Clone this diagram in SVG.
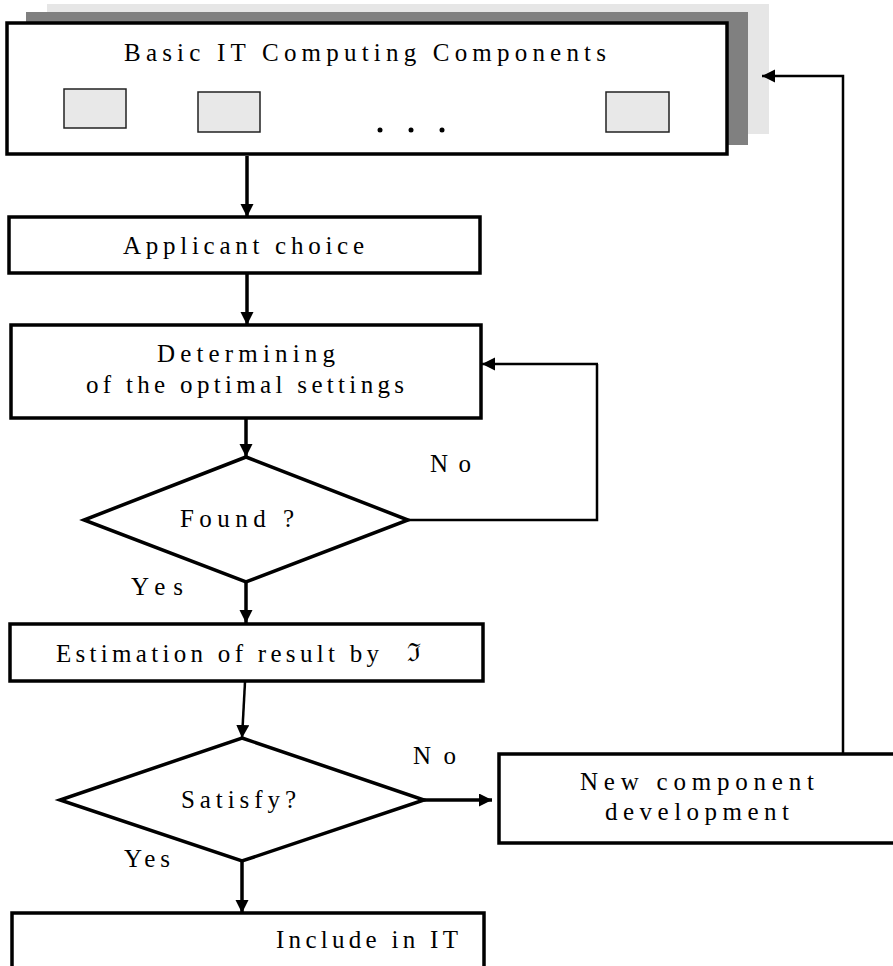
<svg xmlns="http://www.w3.org/2000/svg" width="893" height="966" viewBox="0 0 893 966">
<style>
.box{fill:#fff;stroke:#000;stroke-width:3.5}
.comp{fill:#e8e8e8;stroke:#222;stroke-width:1.5}
.t{font-family:"Liberation Serif","Times New Roman",serif;font-size:25px;fill:#000}
.c{fill:none;stroke:#000;stroke-width:3.5}
.cl{fill:none;stroke:#000;stroke-width:2.5}
</style>
<defs>
<marker id="ah" markerUnits="userSpaceOnUse" markerWidth="14" markerHeight="14" refX="13" refY="6.5" orient="auto">
<path d="M0,0 L13,6.5 L0,13 z" fill="#000"/>
</marker>
</defs>
<rect width="893" height="966" fill="#fff"/>
<g id="basic">
<rect x="47" y="4" width="722" height="130" fill="#e6e6e6"/>
<rect x="26" y="12" width="722" height="133" fill="#808080"/>
<rect class="box" x="7" y="23" width="720" height="131"/>
<text class="t" x="124" y="61" textLength="482" lengthAdjust="spacing">Basic IT Computing Components</text>
<rect class="comp" x="64" y="89" width="62" height="39"/>
<rect class="comp" x="198" y="92" width="62" height="40"/>
<rect class="comp" x="606" y="92" width="63" height="40"/>
<circle cx="380" cy="130" r="2.5"/>
<circle cx="411" cy="130" r="2.5"/>
<circle cx="442" cy="130" r="2.5"/>
</g>
<g id="applicant">
<rect class="box" x="9" y="217" width="471" height="56"/>
<text class="t" x="123" y="254" textLength="241" lengthAdjust="spacing">Applicant choice</text>
</g>
<g id="determining">
<rect class="box" x="11" y="325" width="470" height="93"/>
<text class="t" x="157" y="362" textLength="178" lengthAdjust="spacing">Determining</text>
<text class="t" x="86" y="393" textLength="318" lengthAdjust="spacing">of the optimal settings</text>
</g>
<g id="found">
<polygon class="box" points="246,457 408,520 246,582 84,520"/>
<text class="t" x="180" y="527" textLength="114" lengthAdjust="spacing">Found ?</text>
</g>
<g id="estimation">
<rect class="box" x="10" y="624" width="473" height="57"/>
<text class="t" x="56" y="662" textLength="323" lengthAdjust="spacing">Estimation of result by</text>
<text x="407" y="661" font-family="'DejaVu Serif',serif" font-size="25">ℑ</text>
</g>
<g id="satisfy">
<polygon class="box" points="242,738 424,800 242,861 60,800"/>
<text class="t" x="181" y="808" textLength="115" lengthAdjust="spacing">Satisfy?</text>
</g>
<g id="newcomp">
<rect class="box" x="499" y="754" width="410" height="89"/>
<text class="t" x="580" y="790" textLength="234" lengthAdjust="spacing">New component</text>
<text class="t" x="605" y="820" textLength="184" lengthAdjust="spacing">development</text>
</g>
<g id="include">
<rect class="box" x="12" y="913" width="472" height="70"/>
<text class="t" x="276" y="948" textLength="182" lengthAdjust="spacing">Include in IT</text>
</g>
<g id="connectors">
<line class="c" x1="247" y1="156" x2="247" y2="217" marker-end="url(#ah)"/>
<line class="c" x1="247" y1="274" x2="247" y2="325" marker-end="url(#ah)"/>
<line class="c" x1="246" y1="419" x2="246" y2="457" marker-end="url(#ah)"/>
<polyline class="cl" points="408,520 597,520 597,364"/>
<line class="cl" x1="598" y1="364" x2="482" y2="364" marker-end="url(#ah)"/>
<line class="c" x1="246" y1="583" x2="246" y2="623" marker-end="url(#ah)"/>
<line class="cl" x1="245" y1="682" x2="242" y2="738" marker-end="url(#ah)"/>
<line class="c" x1="424" y1="800" x2="492" y2="800" marker-end="url(#ah)"/>
<line class="c" x1="242" y1="862" x2="242" y2="913" marker-end="url(#ah)"/>
<polyline class="cl" points="843,754 843,76 762,76" marker-end="url(#ah)"/>
<text class="t" x="430" y="472" textLength="41" lengthAdjust="spacing">No</text>
<text class="t" x="131" y="595" textLength="52" lengthAdjust="spacing">Yes</text>
<text class="t" x="413" y="764" textLength="43" lengthAdjust="spacing">No</text>
<text class="t" x="124" y="867" font-size="21" textLength="46" lengthAdjust="spacing">Yes</text>
</g>
</svg>
